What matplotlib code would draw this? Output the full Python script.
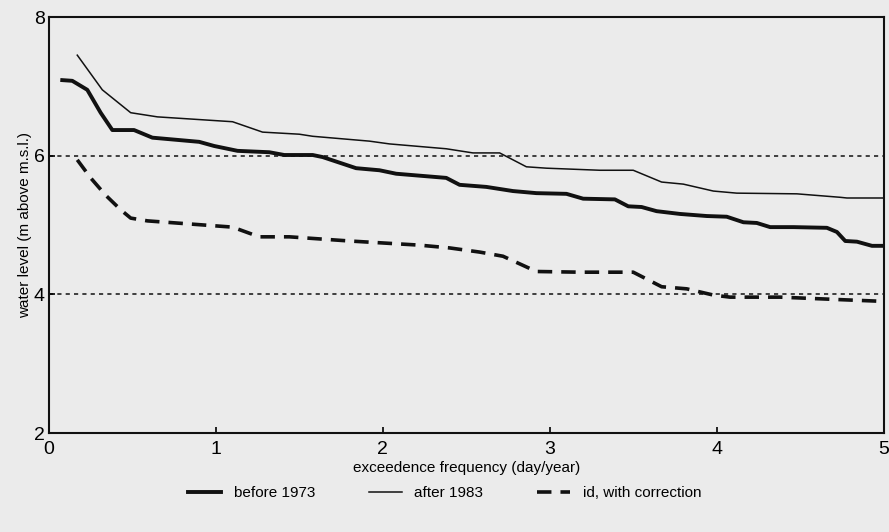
import matplotlib.pyplot as plt

plt.rcParams['font.family'] = ['Liberation Sans Narrow', 'Liberation Sans', 'DejaVu Sans']

# waterstand-overschrijdingslijnen
x_voor = [0.08, 0.14, 0.23, 0.31, 0.38, 0.51, 0.62, 0.90, 0.99, 1.13,
          1.32, 1.41, 1.58, 1.64, 1.84, 1.98, 2.08, 2.38, 2.46, 2.62,
          2.78, 2.92, 3.10, 3.20, 3.39, 3.47, 3.55, 3.64, 3.78, 3.94,
          4.06, 4.16, 4.24, 4.32, 4.46, 4.66, 4.72, 4.77, 4.84, 4.93, 5.0]
y_voor = [7.09, 7.08, 6.95, 6.62, 6.37, 6.37, 6.26, 6.20, 6.14, 6.07,
          6.05, 6.01, 6.01, 5.98, 5.82, 5.79, 5.74, 5.68, 5.58, 5.55,
          5.49, 5.46, 5.45, 5.38, 5.37, 5.27, 5.26, 5.20, 5.16, 5.13,
          5.12, 5.04, 5.03, 4.97, 4.97, 4.96, 4.90, 4.77, 4.76, 4.70, 4.70]

x_na = [0.17, 0.32, 0.49, 0.65, 1.10, 1.28, 1.50, 1.58, 1.92, 2.04,
        2.38, 2.54, 2.70, 2.86, 2.98, 3.30, 3.50, 3.67, 3.80, 3.98,
        4.12, 4.48, 4.74, 4.78, 5.0]
y_na = [7.45, 6.95, 6.62, 6.56, 6.49, 6.34, 6.31, 6.28, 6.21, 6.17,
        6.10, 6.04, 6.04, 5.84, 5.82, 5.79, 5.79, 5.62, 5.59, 5.49,
        5.46, 5.45, 5.40, 5.39, 5.39]

x_corr = [0.17, 0.25, 0.34, 0.43, 0.49, 0.59, 1.10, 1.26, 1.44, 1.80,
          2.22, 2.40, 2.58, 2.72, 2.92, 3.18, 3.50, 3.67, 3.82,
          3.98, 4.08, 4.38, 4.78, 4.99]
y_corr = [5.94, 5.68, 5.43, 5.22, 5.10, 5.06, 4.97, 4.83, 4.83, 4.77,
          4.71, 4.67, 4.61, 4.55, 4.33, 4.32, 4.32, 4.11, 4.08,
          3.99, 3.96, 3.96, 3.92, 3.90]

niveaus = [6, 4]
labels = ['before 1973', 'after 1983', 'id, with correction']

bg = '#ebebeb'
fig = plt.figure(figsize=(8.89, 5.32), dpi=100, facecolor=bg)
ax = fig.add_axes([0.055, 0.186, 0.939, 0.782], facecolor=bg)

for n in niveaus:
    ax.axhline(n, color='#222222', lw=1.2, ls=(0, (2.5, 2.5)), zorder=1)

ax.plot(x_voor, y_voor, color='#111111', lw=2.8, label=labels[0],
        solid_joinstyle='round')
ax.plot(x_na, y_na, color='#111111', lw=1.1, label=labels[1])
ax.plot(x_corr, y_corr, color='#111111', lw=2.6, ls=(0, (4, 2.5)),
        label=labels[2])

ax.set_xlim(0, 5)
ax.set_ylim(2, 8)
ax.set_xticks([0, 1, 2, 3, 4, 5])
ax.set_yticks([2, 4, 6, 8])
ax.tick_params(direction='in', length=4, width=1.2, labelsize=14, pad=3)
ax.tick_params(axis='x', pad=6)
for s in ax.spines.values():
    s.set_linewidth(1.5)
    s.set_color('#111111')

ax.set_xlabel('exceedence frequency (day/year)', fontsize=11, labelpad=2)
ax.set_ylabel('water level (m above m.s.l.)', fontsize=11, labelpad=1)

fig.legend(loc='center', bbox_to_anchor=(0.5, 0.073), ncol=3, frameon=False,
           fontsize=11, handlelength=2.2, columnspacing=3.5)

plt.savefig('out.png', dpi=100, facecolor=bg)
